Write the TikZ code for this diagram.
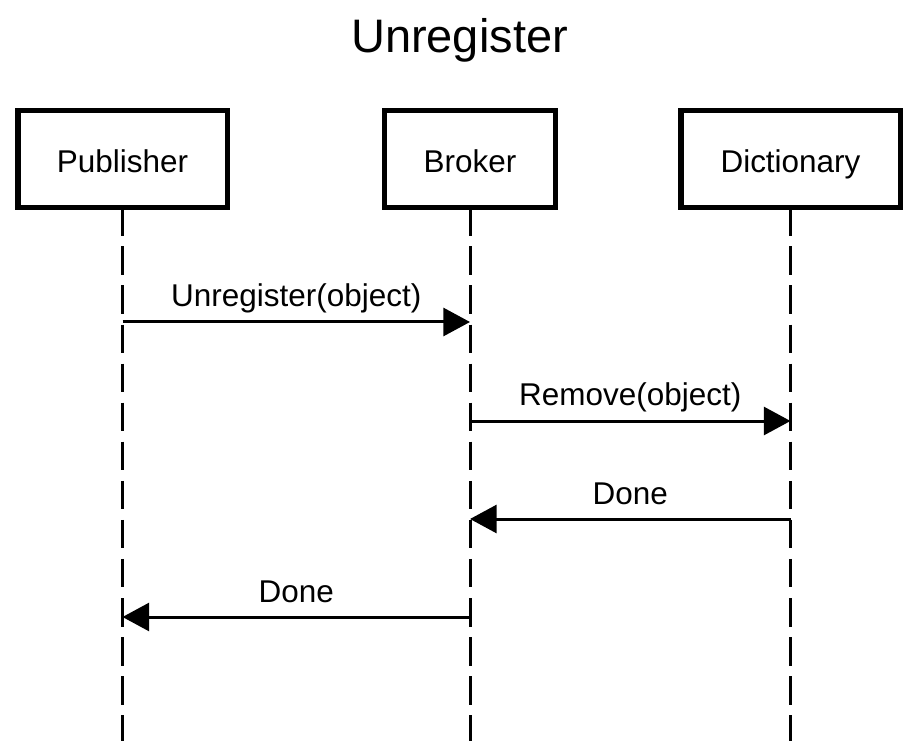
\documentclass[tikz,border=0pt]{standalone}
\usepackage{fontspec}
\setmainfont{Liberation Sans}
\usetikzlibrary{arrows.meta}

\tikzset{
  actor/.style={draw, fill=white, line width=4.1pt, minimum height=72.4pt, inner sep=0pt,
    text height=20.3pt, text depth=0pt, font=\fontsize{23.6}{28}\selectfont},
  lifeline/.style={line width=2.25pt, dash pattern=on 21.4pt off 7.9pt, dash phase=2pt},
  msg/.style={line width=2.25pt, -{Triangle[length=20pt,width=21pt]}},
  msglabel/.style={midway, anchor=base, yshift=11.25pt, font=\fontsize{23.6}{28}\selectfont}
}

\begin{document}
\begin{tikzpicture}[x=0.75pt,y=-0.75pt]
      \useasboundingbox (0,0) rectangle (917,741);
      \node[font=\fontsize{35.25}{42}\selectfont, anchor=base] (title) at (459.5,53) {Unregister};

      \node[actor, minimum width=157.1pt] (pub) at (122.5,159) {Publisher};
      \node[actor, minimum width=127.9pt] (brk) at (470,159) {Broker};
      \node[actor, minimum width=164.6pt] (dic) at (790.5,159) {Dictionary};

      \foreach \n in {pub,brk,dic} {
        \coordinate (\n-end) at (\n.south |- 0,741);
        \draw[lifeline] (\n.south) -- (\n-end);
        \foreach \k/\y in {1/322,2/421,3/519,4/617}
          \coordinate (\n-\k) at (\n.south |- 0,\y);
      }

      \draw[msg] (pub-1) -- node[msglabel] {Unregister(object)} (brk-1);
      \draw[msg] (brk-2) -- node[msglabel] {Remove(object)} (dic-2);
      \draw[msg] (dic-3) -- node[msglabel] {Done} (brk-3);
      \draw[msg] (brk-4) -- node[msglabel] {Done} (pub-4);
\end{tikzpicture}
\end{document}
